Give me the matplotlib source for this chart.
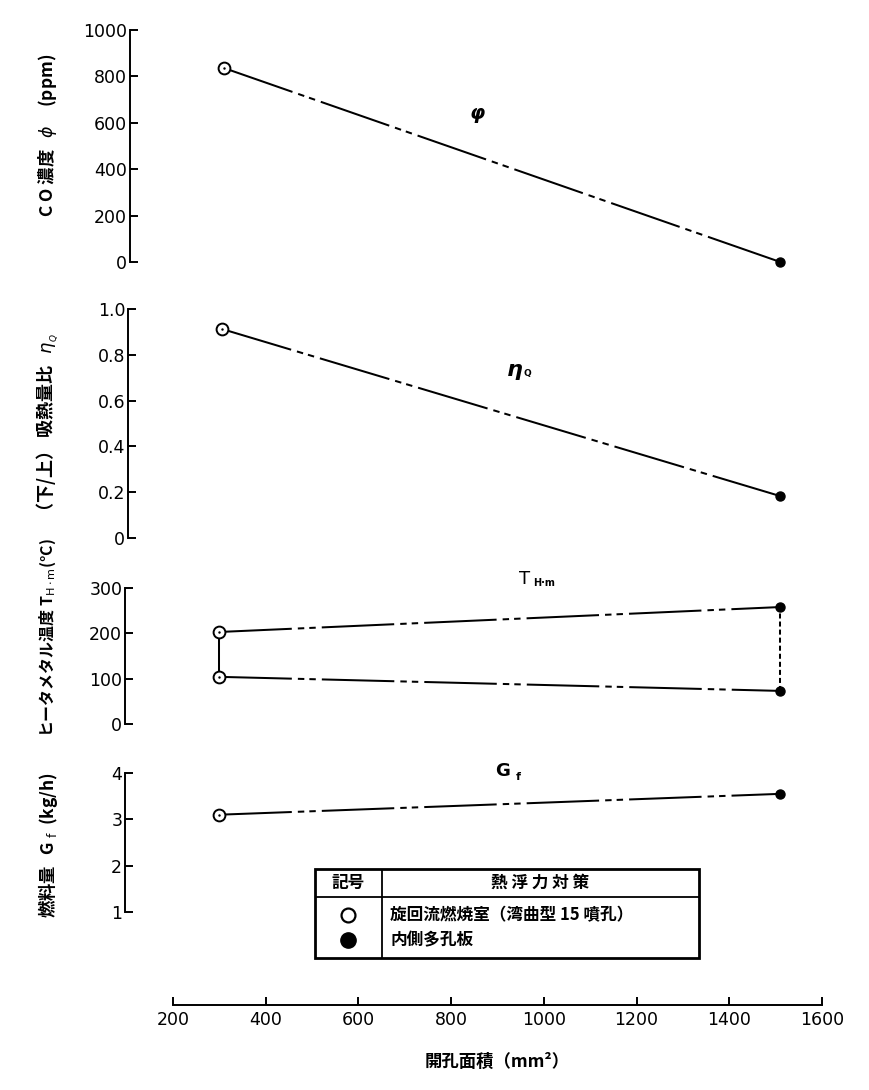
import matplotlib

matplotlib.use("Agg")
import matplotlib.pyplot as plt
from matplotlib.patches import Rectangle

# data
area_ticks = [200, 400, 600, 800, 1000, 1200, 1400, 1600]

co_x = [310, 1510]
co_y = [836, 0]

eta_x = [305, 1510]
eta_y = [0.913, 0.183]

thm_x = [300, 1510]
thm_upper = [203, 258]
thm_lower = [104, 73]

gf_x = [300, 1510]
gf_y = [3.1, 3.55]

CJK = ["Noto Sans CJK JP", "DejaVu Sans"]
W, H = 869, 1090
plt.rcParams["font.family"] = ["DejaVu Sans"]

fig = plt.figure(figsize=(W / 100, H / 100), dpi=100)


def px_rect(x0, y0, x1, y1):
    return [x0 / W, 1 - y1 / H, (x1 - x0) / W, (y1 - y0) / H]


# long dash followed by two short dashes
DDOT = (0, (36, 3, 3.2, 2.5, 3.2, 3))
LW = 1.45


def panel(y0, y1, spine_px, ylim, ticks, labels):
    ax = fig.add_axes(px_rect(173, y0, 822, y1))
    ax.set_xlim(200, 1600)
    ax.set_ylim(*ylim)
    for s in ["top", "right", "bottom"]:
        ax.spines[s].set_visible(False)
    ax.spines["left"].set_position(("outward", (173 - spine_px) * 0.72))
    ax.spines["left"].set_linewidth(1.4)
    ax.set_xticks([])
    ax.set_yticks(ticks)
    ax.set_yticklabels(labels)
    ax.tick_params(axis="y", direction="in", length=6, width=1.4, pad=2, labelsize=12.5)
    ax.patch.set_alpha(0)
    return ax


def open_pt(ax, x, y):
    ax.plot(x, y, "o", ms=8.5, mfc="white", mec="black", mew=1.4, clip_on=False, zorder=5)
    ax.plot(x, y, ".", ms=1.5, color="black", clip_on=False, zorder=6)


def filled_pt(ax, x, y):
    ax.plot(x, y, "o", ms=6.5, color="black", clip_on=False, zorder=5)


# CO concentration
ax1 = panel(30, 262, 130, (0, 1000), [0, 200, 400, 600, 800, 1000],
            ["0", "200", "400", "600", "800", "1000"])
ax1.plot(co_x, co_y, color="black", lw=LW, ls=DDOT, clip_on=False)
open_pt(ax1, co_x[0], co_y[0])
filled_pt(ax1, co_x[1], co_y[1])
ax1.text(856, 642, "φ", fontsize=14, fontstyle="italic", fontweight="bold",
         ha="center", va="center")

# heat absorption ratio
ax2 = panel(309, 538, 128, (0, 1.0), [0, 0.2, 0.4, 0.6, 0.8, 1.0],
            ["0", "0.2", "0.4", "0.6", "0.8", "1.0"])
ax2.plot(eta_x, eta_y, color="black", lw=LW, ls=DDOT, clip_on=False)
open_pt(ax2, eta_x[0], eta_y[0])
filled_pt(ax2, eta_x[1], eta_y[1])
ax2.text(938, 0.735, "η", fontsize=16, fontstyle="italic", fontweight="bold",
         ha="center", va="center")
ax2.text(964, 0.72, "Q", fontsize=6.5, fontweight="bold", ha="center", va="center")

# heater metal temperature
ax3 = panel(588, 724, 125, (0, 300), [0, 100, 200, 300], ["0", "100", "200", "300"])
ax3.plot(thm_x, thm_upper, color="black", lw=LW, ls=DDOT, clip_on=False)
ax3.plot(thm_x, thm_lower, color="black", lw=LW, ls=DDOT, clip_on=False)
ax3.plot([thm_x[0], thm_x[0]], [thm_lower[0], thm_upper[0]], color="black", lw=LW)
ax3.plot([thm_x[1], thm_x[1]], [thm_lower[1], thm_upper[1]], color="black", lw=LW,
         ls=(0, (2.5, 1.5)))
for i in range(2):
    open_pt(ax3, thm_x[0], [thm_lower, thm_upper][i][0])
    filled_pt(ax3, thm_x[1], [thm_lower, thm_upper][i][1])
ax3.text(959, 320, "T", fontsize=13, ha="center", va="center", clip_on=False)
ax3.text(1000, 312, "H·m", fontsize=7, fontweight="bold", ha="center", va="center",
         clip_on=False)

# fuel flow
ax4 = panel(773, 912, 125, (1, 4), [1, 2, 3, 4], ["1", "2", "3", "4"])
ax4.plot(gf_x, gf_y, color="black", lw=LW, ls=DDOT, clip_on=False)
open_pt(ax4, gf_x[0], gf_y[0])
filled_pt(ax4, gf_x[1], gf_y[1])
ax4.text(911, 4.05, "G", fontsize=13, fontweight="bold", ha="center", va="center",
         clip_on=False)
ax4.text(944, 3.92, "f", fontsize=8, fontweight="bold", ha="center", va="center",
         clip_on=False)

# shared x axis
axb = fig.add_axes(px_rect(173, 990, 822, 1005))
axb.set_xlim(200, 1600)
axb.set_ylim(0, 1)
for s in ["top", "right", "left"]:
    axb.spines[s].set_visible(False)
axb.spines["bottom"].set_linewidth(1.4)
axb.set_yticks([])
axb.set_xticks(area_ticks)
axb.set_xticklabels([str(t) for t in area_ticks])
axb.tick_params(axis="x", direction="in", length=6, width=1.4, pad=4, labelsize=12.5)
axb.patch.set_alpha(0)

fig.text(497 / W, 1 - 1062 / H, "開孔面積（mm²）", family=CJK, fontsize=12.5,
         fontweight="bold", ha="center", va="center")

# y labels: text, centre y (px), font size
ylabels = [
    ("C O 濃度   $\\phi$     (ppm)", 135, 12.5),
    ("（下/上） 吸熱量比   $\\eta_{_Q}$", 427, 13),
    ("ヒータメタル温度 T$_{\\rm H\\cdot m}$(°C)", 638, 11.5),
    ("燃料量   G $_{\\rm f}$  (kg/h)", 845, 12.5),
]
for txt, yc, fs in ylabels:
    fig.text(48 / W, 1 - yc / H, txt, family=CJK, fontsize=fs, fontweight="bold",
             rotation=90, ha="center", va="center")

# symbol table
axt = fig.add_axes(px_rect(315, 869, 699, 958))
axt.set_xlim(315, 699)
axt.set_ylim(958, 869)
axt.axis("off")
axt.add_patch(Rectangle((315, 869), 384, 89, fill=False, lw=2, ec="black", clip_on=False))
axt.plot([382, 382], [869, 958], color="black", lw=1.3)
axt.plot([315, 699], [897, 897], color="black", lw=1.3)
axt.text(348, 883, "記号", family=CJK, fontsize=12, fontweight="bold", ha="center", va="center")
axt.text(540, 883, "熱 浮 力 対 策", family=CJK, fontsize=12, fontweight="bold",
         ha="center", va="center")
axt.plot(348, 915, "o", ms=10, mfc="white", mec="black", mew=1.6)
axt.plot(348, 940, "o", ms=11, color="black")
axt.text(390, 915, "旋回流燃焼室（湾曲型 15 噴孔）", family=CJK, fontsize=12,
         fontweight="bold", ha="left", va="center")
axt.text(390, 940, "内側多孔板", family=CJK, fontsize=12, fontweight="bold",
         ha="left", va="center")

fig.savefig("out.png", dpi=100)
plt.close(fig)
